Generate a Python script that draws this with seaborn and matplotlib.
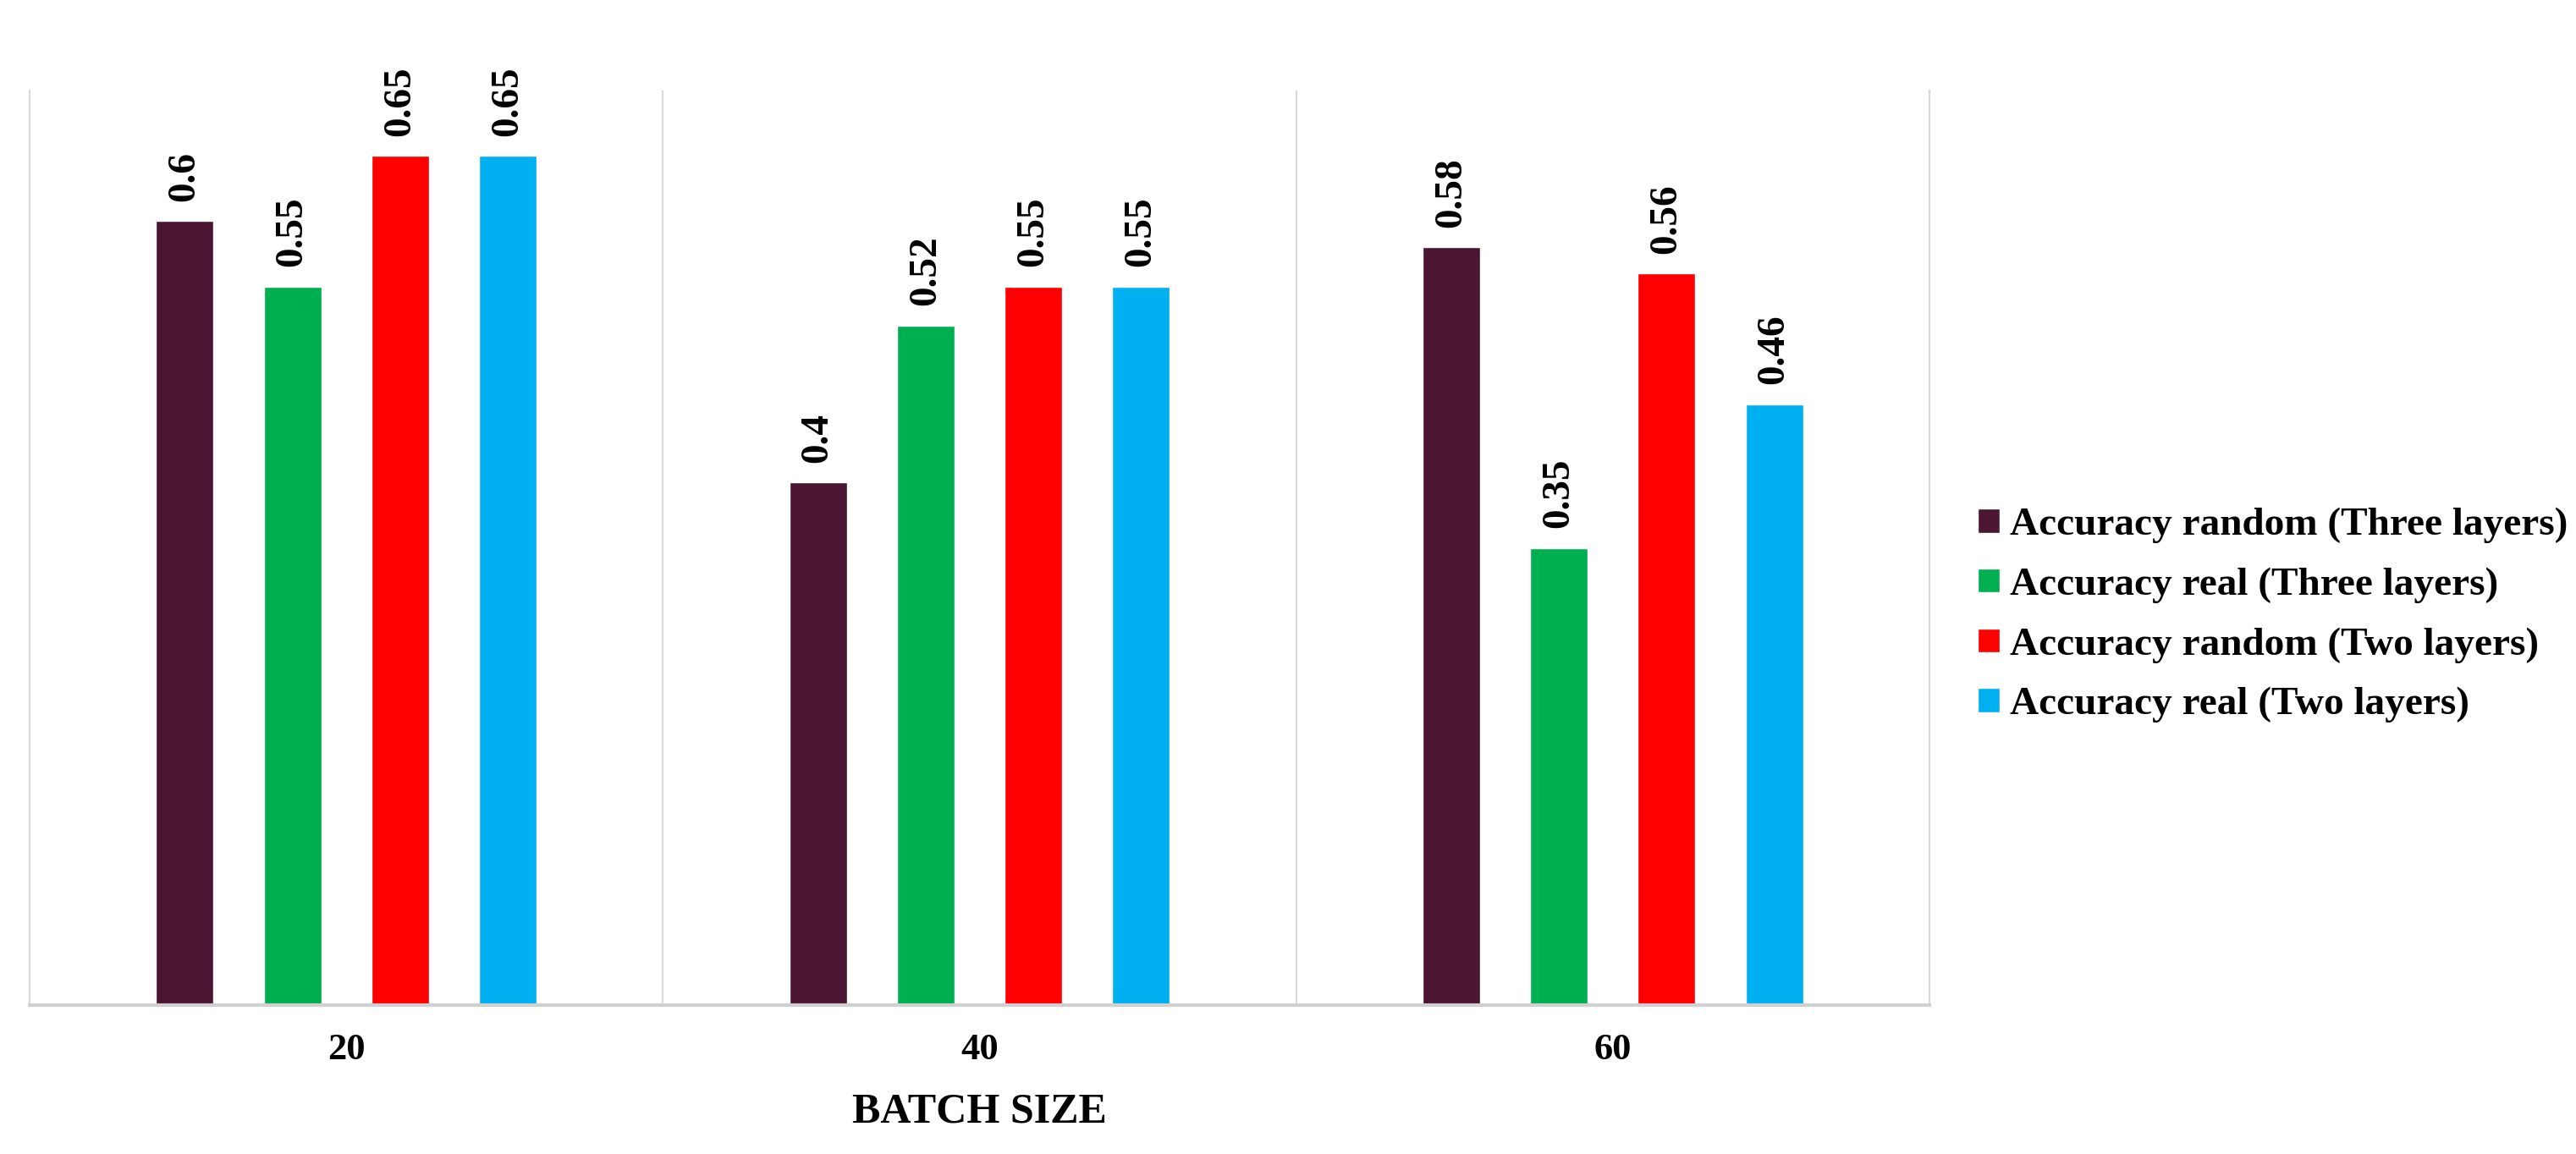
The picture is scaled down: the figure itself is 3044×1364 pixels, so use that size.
import numpy as np
import pandas as pd
import matplotlib
matplotlib.use("Agg")
import matplotlib.pyplot as plt
import seaborn as sns

# ---- data ----
batch_sizes = ["20", "40", "60"]
series_names = [
    "Accuracy random (Three layers)",
    "Accuracy real (Three layers)",
    "Accuracy random (Two layers)",
    "Accuracy real (Two layers)",
]
acc_random_three = [0.60, 0.40, 0.58]
acc_real_three = [0.55, 0.52, 0.35]
acc_random_two = [0.65, 0.55, 0.56]
acc_real_two = [0.65, 0.55, 0.46]
bar_colors = ["#4A1632", "#00B050", "#FF0000", "#00B0F0"]

all_series = [acc_random_three, acc_real_three, acc_random_two, acc_real_two]
df = pd.DataFrame({
    "Batch": [b for s in all_series for b in batch_sizes],
    "Series": [n for n, s in zip(series_names, all_series) for _ in s],
    "Accuracy": [v for s in all_series for v in s],
})

sns.set_theme(style="white")
plt.rcParams["font.family"] = ["Liberation Serif", "DejaVu Serif"]
plt.rcParams["font.weight"] = "bold"
plt.rcParams["text.color"] = "black"
plt.rcParams["xtick.color"] = "black"
plt.rcParams["axes.labelcolor"] = "black"

fig = plt.figure(figsize=(30.44, 13.64), dpi=100)
ax = fig.add_axes([0.0115, 0.129, 0.7375, 0.7925])

sns.barplot(data=df, x="Batch", y="Accuracy", hue="Series", order=batch_sizes,
            hue_order=series_names, palette=bar_colors, width=0.68, gap=0.465,
            saturation=1, ax=ax, legend=True)

for cont in ax.containers:
    ax.bar_label(cont, labels=[f"{v:g}" for v in cont.datavalues], rotation=90,
                 padding=17, fontsize=34, fontweight="bold", color="black")

ax.set_ylim(0, 0.7)
ax.set_xlim(-0.5, len(batch_sizes) - 0.5)
ax.set_yticks([])
ax.set_ylabel("")
ax.set_xlabel("BATCH SIZE", fontsize=36, fontweight="bold", labelpad=22)
ax.tick_params(axis="x", length=0, pad=24, labelsize=32)
for lbl in ax.get_xticklabels():
    lbl.set_fontweight("bold")

# category separators like the spreadsheet gridlines
for xb in np.arange(0.5, len(batch_sizes) - 0.5, 1.0):
    ax.axvline(xb, color="#D9D9D9", lw=1.5, zorder=0)
ax.spines["top"].set_visible(False)
for side in ["left", "right"]:
    ax.spines[side].set_color("#D9D9D9")
    ax.spines[side].set_linewidth(1.5)
ax.spines["bottom"].set_color("#D0D0D0")
ax.spines["bottom"].set_linewidth(3)

handles, labels = ax.get_legend_handles_labels()
ax.legend_.remove()
fig.legend(handles, labels, loc="center left", bbox_to_anchor=(0.7677, 0.467),
           frameon=False, handlelength=0.55, handleheight=0.55,
           handletextpad=0.25, labelspacing=0.6, borderpad=0, borderaxespad=0,
           prop={"weight": "bold", "size": 34})

fig.savefig("out.png", dpi=100, facecolor="white")
